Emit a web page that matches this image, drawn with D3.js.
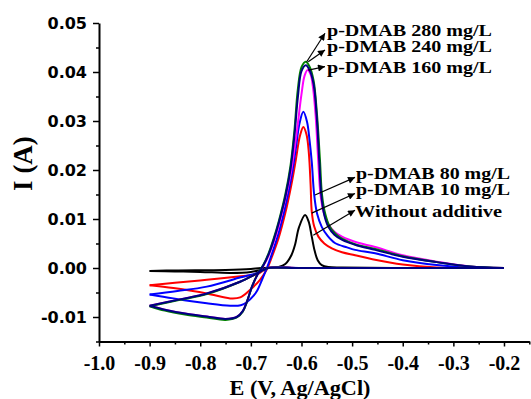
<!DOCTYPE html>
<html>
<head>
<meta charset="utf-8">
<script src="https://cdn.jsdelivr.net/npm/d3@7"></script>
<style>
  body { margin: 0; background: #fff; }
</style>
</head>
<body>
<div id="chart"></div>
<script>
// tick values
var xTicks = [-1.0, -0.9, -0.8, -0.7, -0.6, -0.5, -0.4, -0.3, -0.2];
var xMinor = [-0.95, -0.85, -0.75, -0.65, -0.55, -0.45, -0.35, -0.25, -0.15];
var yTicks = [-0.01, 0.00, 0.01, 0.02, 0.03, 0.04, 0.05];
var yMinor = [-0.015, -0.005, 0.005, 0.015, 0.025, 0.035, 0.045];

var labels = ["p-DMAB 280 mg/L", "p-DMAB 240 mg/L", "p-DMAB 160 mg/L",
              "p-DMAB 80 mg/L", "p-DMAB 10 mg/L", "Without additive"];

// [E (V), I (A)] -- cathodic sweep (-0.2 -> -0.9) and return sweep (-0.9 -> -0.2)
var blankCath = [[-0.2,0],[-0.4,0],[-0.6,0],[-0.68,0],[-0.70,-0.0002],[-0.75,-0.0004],[-0.85,-0.0005],[-0.9,-0.0006]];
var blankRet = [[-0.9,-0.0006],[-0.85,-0.0007],[-0.80,-0.0008],[-0.74,-0.0010],[-0.70,-0.0008],[-0.68,-0.0004],[-0.665,0],
  [-0.645,0.0002],[-0.632,0.0008],[-0.62,0.0026],[-0.6126,0.0048],[-0.605,0.0083],[-0.5929,0.0108],[-0.586,0.0095],
  [-0.5797,0.0064],[-0.574,0.0035],[-0.568,0.0016],[-0.560,0.0006],[-0.547,0.0002],[-0.52,0.0001],[-0.40,0],[-0.2,0]];

var c10Cath = [[-0.2,0],[-0.4,0],[-0.6,0],[-0.666,0],[-0.688,-0.0013],[-0.72,-0.0017],[-0.787,-0.0024],[-0.85,-0.0030],[-0.9,-0.0035]];
var c10Ret = [[-0.9,-0.0035],[-0.853,-0.0041],[-0.787,-0.0052],[-0.741,-0.0062],[-0.721,-0.0060],[-0.702,-0.0045],[-0.682,-0.0024],
  [-0.668,-0.0002],[-0.658,0.0024],[-0.645,0.0062],[-0.632,0.0112],[-0.620,0.0170],[-0.611,0.0222],[-0.603,0.0270],
  [-0.5963,0.0288],[-0.590,0.0272],[-0.5855,0.0235],[-0.582,0.0170],[-0.5797,0.0115],[-0.575,0.0085],[-0.5666,0.0064],
  [-0.555,0.0050],[-0.540,0.0040],[-0.52,0.0032],[-0.494,0.0026],[-0.46,0.0018],[-0.40,0.0007],[-0.333,0.0001],[-0.2,0]];

var c80Cath = [[-0.2,0],[-0.4,0],[-0.6,0],[-0.666,0],[-0.688,-0.0010],[-0.72,-0.0019],[-0.787,-0.0038],[-0.845,-0.0047],[-0.9,-0.0054]];
var c80Ret = [[-0.9,-0.0054],[-0.853,-0.0062],[-0.787,-0.0072],[-0.741,-0.0077],[-0.72,-0.0076],[-0.708,-0.0070],[-0.695,-0.0057],
  [-0.688,-0.0047],[-0.678,-0.0024],[-0.668,0.0001],[-0.658,0.0030],[-0.645,0.0072],[-0.632,0.0125],[-0.620,0.0185],
  [-0.611,0.0245],[-0.604,0.0295],[-0.5963,0.0319],[-0.589,0.0298],[-0.584,0.0260],[-0.5796,0.0215],[-0.575,0.0150],
  [-0.569,0.0110],[-0.560,0.0084],[-0.548,0.0065],[-0.534,0.0051],[-0.51,0.0042],[-0.494,0.0037],[-0.4545,0.0030],
  [-0.40,0.0016],[-0.333,0.0006],[-0.267,0.0001],[-0.2,0]];

var c160Cath = [[-0.2,0],[-0.4,0],[-0.6,0],[-0.666,0],[-0.675,-0.0004],[-0.69,-0.0012],[-0.7213,-0.0028],[-0.787,-0.0052],[-0.84,-0.0064],[-0.9,-0.0077]];
var c160Ret = [[-0.9,-0.0077],[-0.87,-0.0085],[-0.83,-0.0093],[-0.787,-0.0099],[-0.75,-0.0104],[-0.728,-0.0100],[-0.716,-0.0088],
  [-0.708,-0.0069],[-0.697,-0.0036],[-0.686,-0.0012],[-0.675,0.0005],[-0.665,0.0025],[-0.655,0.0052],[-0.645,0.0086],
  [-0.632,0.0140],[-0.620,0.0200],[-0.609,0.0280],[-0.600,0.0355],[-0.594,0.0392],[-0.588,0.0404],[-0.582,0.0395],
  [-0.5775,0.0370],[-0.572,0.0310],[-0.567,0.0220],[-0.5625,0.0150],[-0.556,0.0113],[-0.547,0.0090],[-0.535,0.0074],
  [-0.52,0.0064],[-0.49,0.0052],[-0.4545,0.0043],[-0.40,0.0026],[-0.333,0.0013],[-0.267,0.0003],[-0.2,0]];

var c240Cath = [[-0.2,0],[-0.4,0],[-0.6,0],[-0.666,0],[-0.675,-0.0004],[-0.69,-0.0012],[-0.7213,-0.0028],[-0.787,-0.0053],[-0.84,-0.0065],[-0.9,-0.0078]];
var c240Ret = [[-0.9,-0.0078],[-0.87,-0.0087],[-0.83,-0.0095],[-0.787,-0.0101],[-0.75,-0.0106],[-0.728,-0.0101],[-0.716,-0.0089],
  [-0.708,-0.0070],[-0.697,-0.0036],[-0.686,-0.0011],[-0.675,0.0007],[-0.665,0.0030],[-0.655,0.0060],[-0.645,0.0095],
  [-0.632,0.0150],[-0.622,0.0207],[-0.614,0.0280],[-0.6075,0.0362],[-0.600,0.0410],[-0.5917,0.0421],[-0.584,0.0411],
  [-0.576,0.0382],[-0.5695,0.0315],[-0.5635,0.0220],[-0.5595,0.0150],[-0.553,0.0110],[-0.545,0.0086],[-0.533,0.0070],
  [-0.52,0.0060],[-0.49,0.0047],[-0.4545,0.0039],[-0.40,0.0024],[-0.333,0.0012],[-0.267,0.0003],[-0.2,0]];

var c280Cath = [[-0.2,0],[-0.4,0],[-0.6,0],[-0.666,0],[-0.675,-0.0004],[-0.69,-0.0012],[-0.7213,-0.0028],[-0.787,-0.0052],[-0.84,-0.0064],[-0.9,-0.0077]];
var c280Ret = [[-0.9,-0.0077],[-0.87,-0.0085],[-0.83,-0.0093],[-0.787,-0.0099],[-0.75,-0.0104],[-0.728,-0.0100],[-0.716,-0.0088],
  [-0.708,-0.0069],[-0.697,-0.0036],[-0.686,-0.0012],[-0.675,0.0006],[-0.665,0.0028],[-0.655,0.0057],[-0.645,0.0092],
  [-0.632,0.0145],[-0.622,0.0200],[-0.614,0.0270],[-0.607,0.0350],[-0.600,0.0402],[-0.5915,0.0414],[-0.584,0.0404],
  [-0.576,0.0375],[-0.570,0.0310],[-0.565,0.0220],[-0.561,0.0150],[-0.555,0.0108],[-0.547,0.0084],[-0.535,0.0068],
  [-0.5205,0.0058],[-0.49,0.0046],[-0.4545,0.0037],[-0.40,0.0023],[-0.333,0.0012],[-0.267,0.0003],[-0.2,0]];

var series = [
  {cath: blankCath, ret: blankRet, color: "#000000"},
  {cath: c10Cath,   ret: c10Ret,   color: "#ff0000"},
  {cath: c80Cath,   ret: c80Ret,   color: "#0000ff"},
  {cath: c160Cath,  ret: c160Ret,  color: "#ff00ff"},
  {cath: c240Cath,  ret: c240Ret,  color: "#008000"},
  {cath: c280Cath,  ret: c280Ret,  color: "#000080"}
];

var width = 531, height = 399;

var svg = d3.select("#chart").append("svg")
    .attr("width", width)
    .attr("height", height);

var x = d3.scaleLinear().domain([-1.0, -0.15]).range([99, 529.3]);
var y = d3.scaleLinear().domain([-0.015, 0.05]).range([341.5, 23]);

// curves
var line = d3.line()
    .x(function(d) { return x(d[0]); })
    .y(function(d) { return y(d[1]); })
    .curve(d3.curveCatmullRom.alpha(0.5));

series.forEach(function(s) {
    [s.cath, s.ret].forEach(function(branch) {
        svg.append("path")
            .datum(branch)
            .attr("d", line)
            .attr("fill", "none")
            .attr("stroke", s.color)
            .attr("stroke-width", 2)
            .attr("stroke-linejoin", "round");
    });
});

// x-axis
var xAxis = svg.append("g")
    .attr("transform", "translate(0," + y(-0.015) + ")")
    .call(d3.axisBottom(x).tickValues(xTicks).tickSize(5).tickSizeOuter(0)
        .tickFormat(function(d) { return d.toFixed(1); }));
xAxis.select(".domain").attr("stroke-width", 2);
xAxis.selectAll(".tick line").attr("stroke-width", 1.5);
xAxis.selectAll("text")
    .attr("y", 28).attr("dy", 0)
    .style("font-family", "'Liberation Serif', 'Times New Roman', serif")
    .style("font-weight", "bold")
    .style("font-size", "20px")
    .attr("fill", "#000");

svg.append("g")
    .attr("transform", "translate(0," + y(-0.015) + ")")
    .call(d3.axisBottom(x).tickValues(xMinor).tickSize(3).tickFormat(""))
    .call(function(g) { g.select(".domain").remove(); })
    .selectAll(".tick line").attr("stroke-width", 1.5);

// y-axis
var yAxis = svg.append("g")
    .attr("transform", "translate(" + x(-1.0) + ",0)")
    .call(d3.axisLeft(y).tickValues(yTicks).tickSize(6).tickPadding(6).tickSizeOuter(0)
        .tickFormat(function(d) { return d.toFixed(2); }));
yAxis.select(".domain").attr("stroke-width", 2);
yAxis.selectAll(".tick line").attr("stroke-width", 1.5);
yAxis.selectAll("text")
    .style("font-family", "'DejaVu Sans', Verdana, sans-serif")
    .style("font-weight", "bold")
    .style("font-size", "16px")
    .attr("fill", "#000");

svg.append("g")
    .attr("transform", "translate(" + x(-1.0) + ",0)")
    .call(d3.axisLeft(y).tickValues(yMinor).tickSize(3).tickFormat(""))
    .call(function(g) { g.select(".domain").remove(); })
    .selectAll(".tick line").attr("stroke-width", 1.5);

// axis labels
svg.append("text")
    .attr("x", 300)
    .attr("y", 395)
    .attr("text-anchor", "middle")
    .style("font-family", "'Liberation Serif', 'Times New Roman', serif")
    .style("font-weight", "bold")
    .style("font-size", "22px")
    .attr("textLength", 141)
    .attr("lengthAdjust", "spacingAndGlyphs")
    .text("E (V, Ag/AgCl)");

svg.append("text")
    .attr("transform", "translate(32,163.5) rotate(-90)")
    .attr("text-anchor", "middle")
    .style("font-family", "'Liberation Serif', 'Times New Roman', serif")
    .style("font-weight", "bold")
    .style("font-size", "27px")
    .text("I (A)");

// arrows + annotation labels
svg.append("defs").append("marker")
    .attr("id", "arrow")
    .attr("viewBox", "0 0 10 10")
    .attr("refX", 10).attr("refY", 5)
    .attr("markerUnits", "userSpaceOnUse")
    .attr("markerWidth", 10).attr("markerHeight", 7)
    .attr("orient", "auto")
    .append("path")
    .attr("d", "M0,0L10,5L0,10z")
    .attr("fill", "#000");

var notes = [
    {tail: [-0.5897, 0.0421], head: [-0.5536, 0.0479], at: [-0.5496, 0.0474], len: 165},
    {tail: [-0.5866, 0.0421], head: [-0.5536, 0.0445], at: [-0.5496, 0.0440], len: 165},
    {tail: [-0.5866, 0.0404], head: [-0.5536, 0.0411], at: [-0.5496, 0.0397], len: 165},
    {tail: [-0.5733, 0.0149], head: [-0.4943, 0.0185], at: [-0.4923, 0.0182], len: 154},
    {tail: [-0.5798, 0.0112], head: [-0.4943, 0.0152], at: [-0.4923, 0.0148], len: 154},
    {tail: [-0.5767, 0.0067], head: [-0.4943, 0.0118], at: [-0.4943, 0.0104], len: 147}
];

notes.forEach(function(n, i) {
    svg.append("line")
        .attr("x1", x(n.tail[0])).attr("y1", y(n.tail[1]))
        .attr("x2", x(n.head[0])).attr("y2", y(n.head[1]))
        .attr("stroke", "#000")
        .attr("stroke-width", 1.2)
        .attr("marker-end", "url(#arrow)");
    svg.append("text")
        .attr("x", x(n.at[0]))
        .attr("y", y(n.at[1]))
        .style("font-family", "'Liberation Serif', 'Times New Roman', serif")
        .style("font-weight", "bold")
        .style("font-size", "16px")
        .attr("textLength", n.len)
        .attr("lengthAdjust", "spacingAndGlyphs")
        .text(labels[i]);
});
</script>
</body>
</html>
